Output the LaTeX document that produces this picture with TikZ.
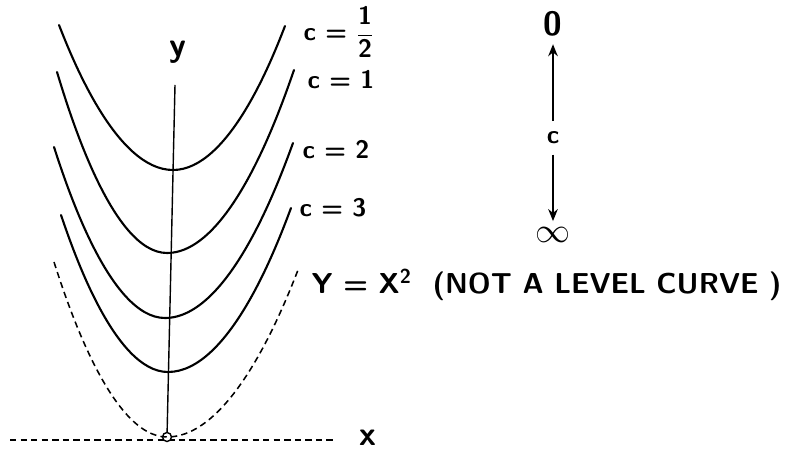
\documentclass[tikz,border=0pt]{standalone}
\usepackage{tikz}
\usetikzlibrary{positioning, arrows.meta}

\begin{document}
\begin{tikzpicture}[x=0.025cm, y=0.025cm,
  font=\sffamily\bfseries\fontsize{18}{20}\selectfont,
  lvl/.style={line width=1.5pt, line cap=round},
  guide/.style={line width=1.1pt, dash pattern=on 4.5pt off 3pt},
  lab/.style={inner sep=1pt, anchor=west},
  axlab/.style={font=\sffamily\bfseries\fontsize{24}{26}\selectfont},
  arr/.style={-{Stealth[length=3mm, width=2.4mm]}, line width=1.2pt}]
  \useasboundingbox (0,0) rectangle (795,452);
  \coordinate (O) at (167,15);
  \coordinate (ytop) at (175,367);
  \coordinate (xl) at (10,12);
  \coordinate (xr) at (335,12);
  \draw[line width=1pt] (O) -- (ytop);
  \draw[guide] (xl) -- (xr);
  \draw[line width=1pt, fill=white] (O) circle (4.5);
  \node[axlab] (ylab) at (178,400) {y};
  \node[axlab] (xlab) at (368,14) {x};
  \draw[lvl] (59,427) parabola bend (173,282) (285,426);
  \draw[lvl] (57,380) parabola bend (167,199) (294,382);
  \draw[lvl] (54,305) parabola bend (165,134) (293,309);
  \draw[lvl] (61,237) parabola bend (168,80) (291,244);
  \draw[guide] (54,190) parabola bend (O) (298,182);
  \node[lab] (half) at (302,420) {c = $\displaystyle\frac{\hbox{1}}{\hbox{2}}$};
  \node[lab] (one) at (306,372) {c = 1};
  \node[lab] (two) at (301,302) {c = 2};
  \node[lab] (three) at (298,244) {c = 3};
  \node[lab, font=\sffamily\bfseries\fontsize{20.5}{22}\selectfont] (par) at (310,167)
    {Y = X\textsuperscript{2} \ (NOT A LEVEL CURVE )};
  \node[axlab] (zero) at (553,428) {0};
  \node (cc) at (553,314) {c};
  \node[axlab] (infty) at (553,217) {$\infty$};
  \draw[arr, shorten <=4pt, shorten >=2pt] (cc) -- (zero);
  \draw[arr, shorten <=4pt, shorten >=1pt] (cc) -- (infty);
\end{tikzpicture}
\end{document}
